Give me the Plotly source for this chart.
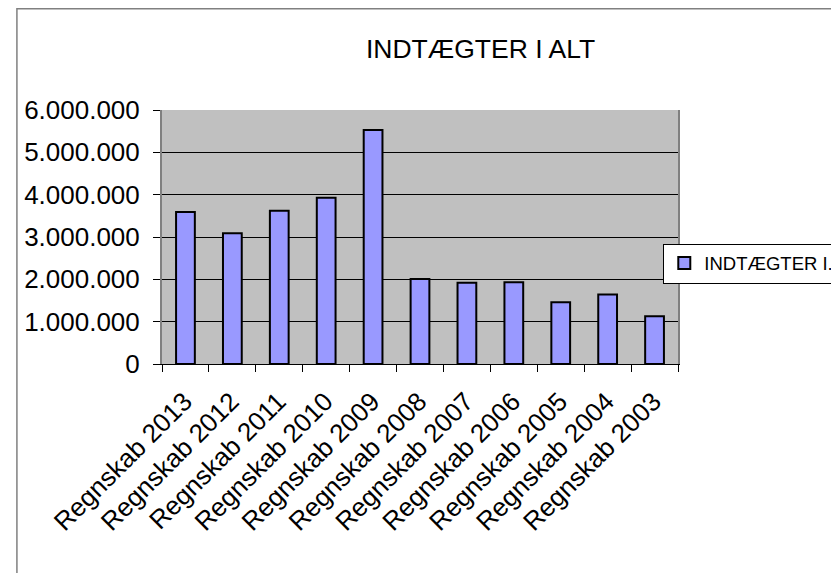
import plotly.graph_objects as go

categories = ["Regnskab 2013", "Regnskab 2012", "Regnskab 2011", "Regnskab 2010",
              "Regnskab 2009", "Regnskab 2008", "Regnskab 2007", "Regnskab 2006",
              "Regnskab 2005", "Regnskab 2004", "Regnskab 2003"]
values = [3590000, 3090000, 3620000, 3930000, 5530000, 2010000, 1920000,
          1930000, 1460000, 1640000, 1130000]
series_name = "INDTÆGTER I."
title_text = "INDTÆGTER I ALT"
y_ticks = [0, 1000000, 2000000, 3000000, 4000000, 5000000, 6000000]

FONT = "Liberation Sans, Arial, sans-serif"

# page body has an 8px margin; figure coordinates are offset accordingly
W, H = 831, 565
L, T = 154, 102
R = W - 669.7
B = H - 356
PW = W - L - R
PH = H - T - B

fig = go.Figure()
fig.add_trace(go.Bar(
    x=categories, y=values, name=series_name,
    marker=dict(color="#9999FF", line=dict(color="black", width=2)),
    showlegend=True,
))

fig.update_layout(
    width=W, height=H,
    margin=dict(l=L, r=R, t=T, b=B, autoexpand=False),
    paper_bgcolor="white", plot_bgcolor="#C0C0C0",
    separators=",.",
    font=dict(family=FONT, color="black", size=24),
    bargap=0.6,
    title=dict(text=title_text, x=472.5 / W, xanchor="center",
               y=1 - 41 / H, yanchor="middle",
               font=dict(family=FONT, size=26.5, color="black")),
    showlegend=True,
    legend=dict(x=(655 - L) / PW, y=(356 - 235.5) / PH,
                xanchor="left", yanchor="top",
                bgcolor="white", bordercolor="black", borderwidth=1,
                font=dict(family=FONT, size=18.5, color="black")),
    xaxis=dict(type="category", tickangle=-45, tickson="boundaries",
               ticks="outside", ticklen=7, tickcolor="black", tickwidth=1,
               ticklabelshift=-1, ticklabelstandoff=11,
               showline=True, linecolor="black", linewidth=1,
               showgrid=False, tickfont=dict(family=FONT, size=26)),
    yaxis=dict(range=[0, 6000000], tickvals=y_ticks, tickformat=",d",
               ticks="outside", ticklen=7, tickcolor="black", tickwidth=1,
               ticklabelstandoff=8,
               showline=True, linecolor="#808080", linewidth=2, mirror=True,
               showgrid=True, gridcolor="black", gridwidth=1,
               zeroline=False, tickfont=dict(family=FONT, size=26)),
    shapes=[dict(type="rect", xref="paper", yref="paper",
                 x0=(9 - L) / PW, x1=1.6,
                 y0=-1.5, y1=(356 - 0.8) / PH,
                 line=dict(color="#808080", width=1.5), layer="below")],
)

fig.write_html("out.html")
